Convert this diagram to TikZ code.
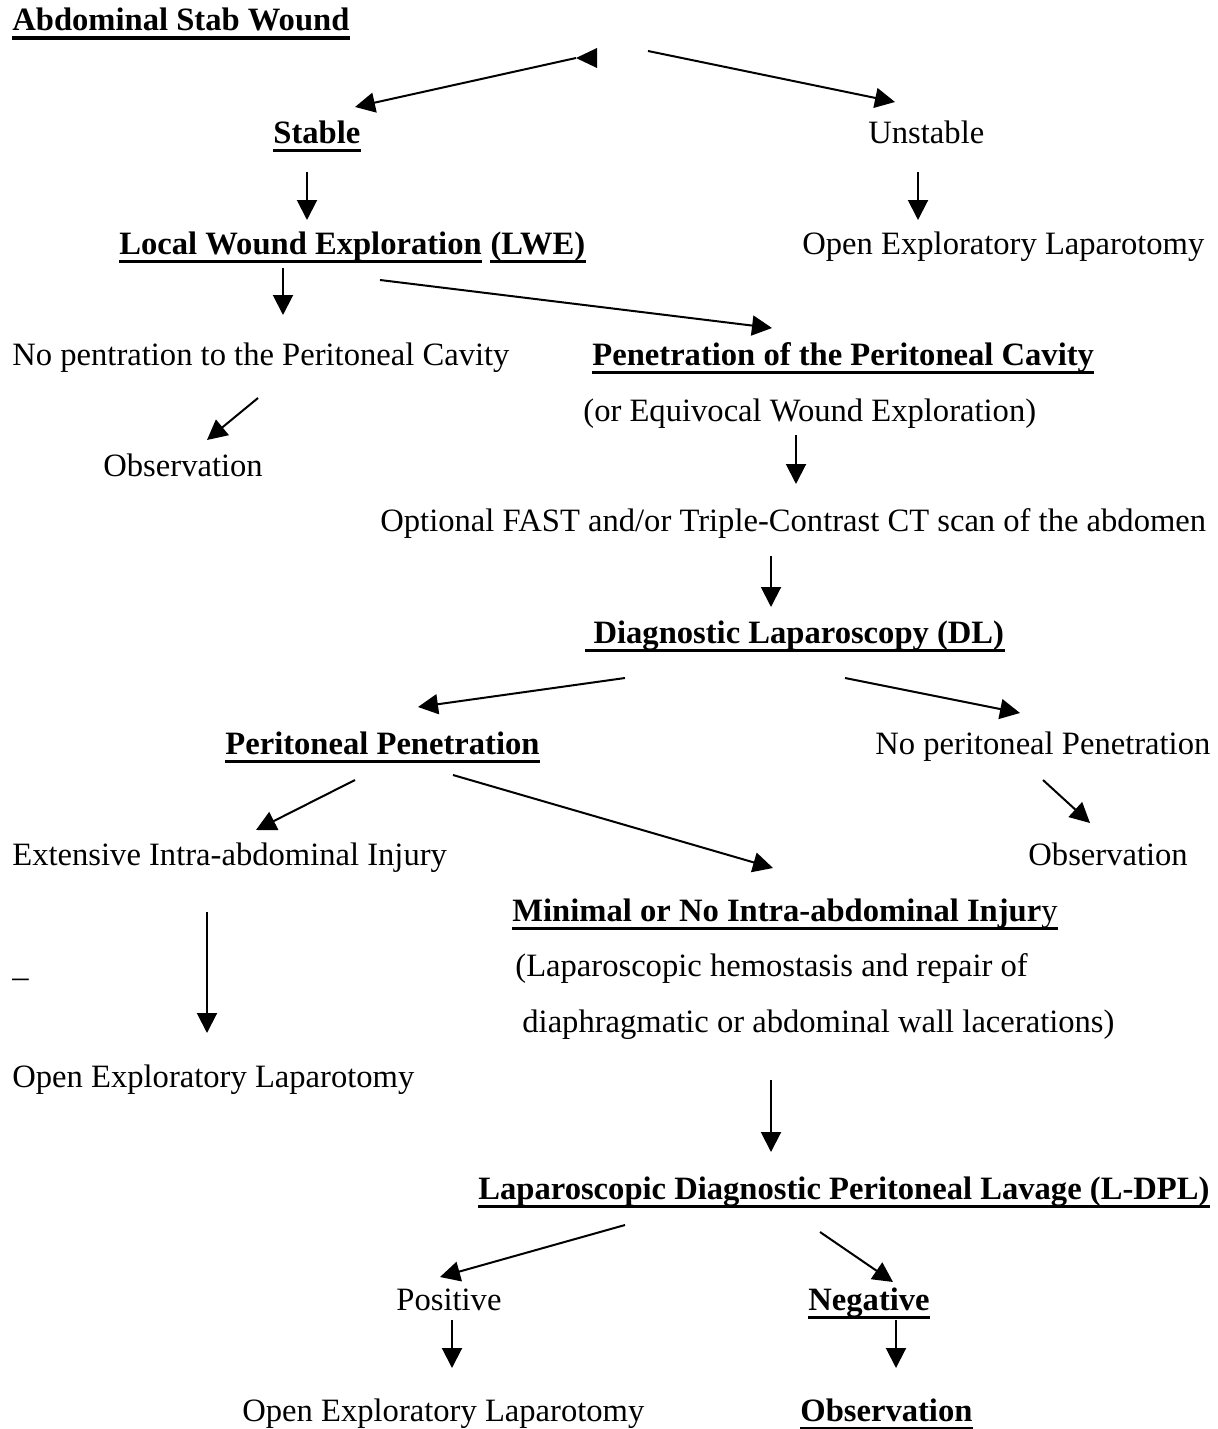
\documentclass[tikz,border=0pt]{standalone}
\usepackage{fontspec}
\setmainfont{Liberation Serif}
\usetikzlibrary{arrows.meta}
\tikzstyle{txt} = [anchor=base west, inner sep=0pt, font=\fontsize{16.3}{20}\selectfont]
\tikzstyle{bold} = [txt, font=\fontsize{16.3}{20}\selectfont\bfseries]
\tikzstyle{line} = [draw, line width=1pt, -{Triangle[length=10pt,width=10pt]}]
\tikzstyle{uline} = [draw, line width=1.7pt]

\begin{document}
\begin{tikzpicture}[x=0.5pt, y=-0.5pt]
\useasboundingbox (0,0) rectangle (1218,1429);
% Place nodes
\node [bold] (title) at (12,31) {Abdominal Stab Wound};
\node [bold] (stable) at (273,143) {Stable};
\node [txt] (unstable) at (868,143) {Unstable};
\node [bold] (lwe) at (119,254) {Local Wound Exploration};
\node [bold, anchor=base west] (lweAbbr) at ([xshift=4pt]lwe.base east) {(LWE)};
\node [txt] (openR) at (802,254) {Open Exploratory Laparotomy};
\node [txt] (nopen) at (12,365) {No pentration to the Peritoneal Cavity};
\node [bold] (pen) at (592,365) {Penetration of the Peritoneal Cavity};
\node [txt] (equiv) at (583,421) {(or Equivocal Wound Exploration)};
\node [txt] (obsL) at (103,476) {Observation};
\node [txt] (fast) at (380,531) {Optional FAST and/or Triple-Contrast CT scan of the abdomen};
\node [bold] (dl) at (585,643) {\ Diagnostic Laparoscopy (DL)};
\node [bold] (pp) at (225,754) {Peritoneal Penetration};
\node [txt] (npp) at (875,754) {No peritoneal Penetration};
\node [txt] (ext) at (12,865) {Extensive Intra-abdominal Injury};
\node [txt] (obsR) at (1028,865) {Observation};
\node [bold] (minimal) at (512,921) {Minimal or No Intra-abdominal Injur{\mdseries y}};
\node [txt] (stray) at (12,976) {\_};
\node [txt] (lap) at (515,976) {(Laparoscopic hemostasis and repair of};
\node [txt] (diaph) at (522,1032) {diaphragmatic or abdominal wall lacerations)};
\node [txt] (openL) at (12,1087) {Open Exploratory Laparotomy};
\node [bold] (ldpl) at (478,1199) {Laparoscopic Diagnostic Peritoneal Lavage (L-DPL)};
\node [txt] (pos) at (396,1310) {Positive};
\node [bold] (neg) at (808,1310) {Negative};
\node [txt] (openB) at (242,1421) {Open Exploratory Laparotomy};
\node [bold] (obsB) at (800,1421) {Observation};
% Underlines
\foreach \n in {title,stable,lwe,lweAbbr,pen,dl,pp,minimal,ldpl,neg,obsB}
  \path [uline] ([yshift=-3.6pt]\n.base west) -- ([yshift=-3.6pt]\n.base east);
% Draw edges
\fill ([shift={(564,27)}]title.base west) -- ++(21,-10) -- ++(0,20) -- cycle;
\path [line] ([shift={(564,27)}]title.base west) -- ([shift={(82,-36)}]stable.base west);
\path [line] ([shift={(636,20)}]title.base west) -- ([shift={(27,-41)}]unstable.base west);
\path [line] ([shift={(34,29)}]stable.base west) -- ([shift={(188,-34)}]lwe.base west);
\path [line] ([shift={(50,29)}]unstable.base west) -- ([shift={(116,-34)}]openR.base west);
\path [line] ([shift={(164,14)}]lwe.base west) -- ([shift={(271,-50)}]nopen.base west);
\path [line] ([shift={(261,26)}]lwe.base west) -- ([shift={(180,-37)}]pen.base west);
\path [line] ([shift={(246,33)}]nopen.base west) -- ([shift={(104,-36)}]obsL.base west);
\path [line] ([shift={(213,14)}]equiv.base west) -- ([shift={(416,-47)}]fast.base west);
\path [line] ([shift={(391,25)}]fast.base west) -- ([shift={(186,-36)}]dl.base west);
\path [line] ([shift={(40,35)}]dl.base west) -- ([shift={(193,-47)}]pp.base west);
\path [line] ([shift={(260,35)}]dl.base west) -- ([shift={(145,-41)}]npp.base west);
\path [line] ([shift={(130,26)}]pp.base west) -- ([shift={(244,-35)}]ext.base west);
\path [line] ([shift={(228,21)}]pp.base west) -- ([shift={(261,-53)}]minimal.base west);
\path [line] ([shift={(168,26)}]npp.base west) -- ([shift={(62,-42)}]obsR.base west);
\path [line] ([shift={(195,47)}]ext.base west) -- ([shift={(195,-54)}]openL.base west);
\path [line] ([shift={(249,48)}]diaph.base west) -- ([shift={(293,-47)}]ldpl.base west);
\path [line] ([shift={(147,26)}]ldpl.base west) -- ([shift={(44,-33)}]pos.base west);
\path [line] ([shift={(342,33)}]ldpl.base west) -- ([shift={(85,-28)}]neg.base west);
\path [line] ([shift={(56,10)}]pos.base west) -- ([shift={(210,-53)}]openB.base west);
\path [line] ([shift={(88,10)}]neg.base west) -- ([shift={(96,-53)}]obsB.base west);
\end{tikzpicture}
\end{document}
